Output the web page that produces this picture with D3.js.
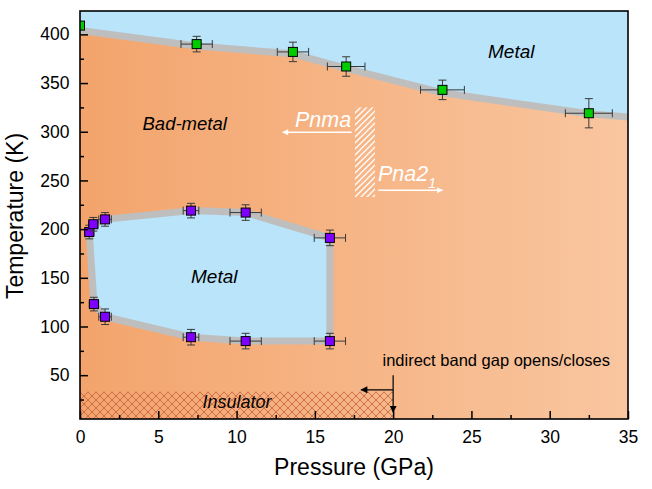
<!DOCTYPE html>
<html>
<head>
<meta charset="utf-8">
<script src="https://cdn.jsdelivr.net/npm/d3@7"></script>
<style>
  body { margin: 0; background: #fff; }
  svg text { font-family: "Liberation Sans", Arial, sans-serif; }
</style>
</head>
<body>
<div id="chart"></div>
<script>
// high temperature boundary (metal / bad-metal), green squares
var highP = [0, 7.45, 13.6, 17.0, 23.15, 32.5];
var highT = [409, 390, 382, 367, 343, 319];
var highPerr = [0, 1.0, 1.0, 1.2, 1.4, 1.5];
var highTerr = [3, 8, 10, 10, 10, 15];

// gray guide line along the top boundary
var lineP = [0, 7.45, 13.6, 17.0, 23.15, 32.5, 35];
var lineT = [404, 388, 380, 365, 340, 318.5, 315];

// metallic dome, purple squares (outline order)
var domeP = [0.59, 0.85, 1.6, 7.09, 10.58, 15.96, 15.96, 10.58, 7.09, 1.6, 0.89];
var domeT = [197, 205, 210, 219, 217, 191, 85, 85, 89, 110, 123];
var domePerr = [0.3, 0.3, 0.4, 0.5, 1.0, 1.0, 1.0, 1.0, 0.5, 0.4, 0.3];
var domeTerr = [7, 7, 7, 7.5, 8, 8, 8, 8, 8, 8, 7];

// structural transition and band-gap markers
var transP = [17.56, 18.84];
var transT = [233, 325];
var insulatorP = [0, 20];
var insulatorT = 33;

var xTicks = [0, 5, 10, 15, 20, 25, 30, 35];
var yTicks = [50, 100, 150, 200, 250, 300, 350, 400];

var W = 652, H = 489;
var x = d3.scaleLinear().domain([0, 35]).range([80, 628]);
var y = d3.scaleLinear().domain([5, 424]).range([419, 11]);

var svg = d3.select("#chart").append("svg").attr("width", W).attr("height", H);
var defs = svg.append("defs");

var grad = defs.append("linearGradient").attr("id", "bg")
  .attr("x1", "0").attr("x2", "1").attr("y1", "0").attr("y2", "0");
grad.append("stop").attr("offset", "0").attr("stop-color", "#F3A46C");
grad.append("stop").attr("offset", "1").attr("stop-color", "#F9C6A0");

defs.append("clipPath").attr("id", "plot").append("rect")
  .attr("x", x(0)).attr("y", y(424)).attr("width", x(35) - x(0)).attr("height", y(5) - y(424));

// cross hatch for the insulator
var xh = defs.append("pattern").attr("id", "xh").attr("patternUnits", "userSpaceOnUse")
  .attr("width", 8).attr("height", 8);
xh.append("path").attr("d", "M-1,-1L9,9M9,-1L-1,9").attr("stroke", "#C4603F")
  .attr("stroke-width", 0.8).attr("fill", "none");

// white diagonal hatch for the Pnma / Pna21 boundary
var wh = defs.append("pattern").attr("id", "wh").attr("patternUnits", "userSpaceOnUse")
  .attr("width", 6).attr("height", 6);
wh.append("path").attr("d", "M-1,7L7,-1M-1,1L1,-1M5,7L7,5").attr("stroke", "#fff")
  .attr("stroke-width", 1.3).attr("fill", "none");

["arrowW", "arrowK"].forEach(function (id) {
  defs.append("marker").attr("id", id).attr("viewBox", "0 0 10 10")
    .attr("refX", 9).attr("refY", 5).attr("markerWidth", id == "arrowW" ? 9 : 10)
    .attr("markerHeight", id == "arrowW" ? 6 : 7).attr("markerUnits", "userSpaceOnUse")
    .attr("orient", "auto")
    .append("path").attr("d", "M0,0L10,5L0,10Z").attr("fill", id == "arrowW" ? "#fff" : "#000");
});

var g = svg.append("g").attr("clip-path", "url(#plot)");

// background
g.append("rect").attr("x", x(0)).attr("y", y(424)).attr("width", x(35) - x(0))
  .attr("height", y(5) - y(424)).attr("fill", "url(#bg)");

// blue metal region above the boundary
var linePts = lineP.map(function (p, i) { return [x(p), y(lineT[i])]; });
var topArea = [[x(0), y(424)]].concat(linePts).concat([[x(35), y(424)]]);
g.append("path").attr("d", d3.line()(topArea) + "Z").attr("fill", "#B9E4FA");

// insulator hatch
g.append("rect").attr("x", x(insulatorP[0])).attr("y", y(insulatorT))
  .attr("width", x(insulatorP[1]) - x(insulatorP[0])).attr("height", y(5) - y(insulatorT))
  .attr("fill", "url(#xh)");

// dome
var domePts = domeP.map(function (p, i) { return [x(p), y(domeT[i])]; });
g.append("path").attr("d", d3.line()(domePts) + "Z").attr("fill", "#B9E4FA")
  .attr("stroke", "#BEBEBE").attr("stroke-width", 7).attr("stroke-linejoin", "round");

g.append("path").attr("d", d3.line()(linePts)).attr("fill", "none")
  .attr("stroke", "#BEBEBE").attr("stroke-width", 7).attr("stroke-linejoin", "round");

// structural transition
g.append("rect").attr("x", x(transP[0])).attr("y", y(transT[1]))
  .attr("width", x(transP[1]) - x(transP[0])).attr("height", y(transT[0]) - y(transT[1]))
  .attr("fill", "url(#wh)");

g.append("line").attr("x1", x(17.35)).attr("x2", x(12.95)).attr("y1", y(299.5)).attr("y2", y(299.5))
  .attr("stroke", "#fff").attr("stroke-width", 1.5).attr("marker-end", "url(#arrowW)");
g.append("line").attr("x1", x(19.05)).attr("x2", x(23.15)).attr("y1", y(240)).attr("y2", y(240))
  .attr("stroke", "#fff").attr("stroke-width", 1.5).attr("marker-end", "url(#arrowW)");

// band gap marker arrows
g.append("line").attr("x1", x(20)).attr("x2", x(20)).attr("y1", y(50)).attr("y2", y(12))
  .attr("stroke", "#000").attr("stroke-width", 1.2).attr("marker-end", "url(#arrowK)");
g.append("line").attr("x1", x(20)).attr("x2", x(17.95)).attr("y1", y(35)).attr("y2", y(35))
  .attr("stroke", "#000").attr("stroke-width", 1.2).attr("marker-end", "url(#arrowK)");

// labels
function label(txt, px, py, size, opts) {
  opts = opts || {};
  return svg.append("text").attr("x", px).attr("y", py).attr("font-size", size)
    .attr("font-style", opts.italic === false ? "normal" : "italic")
    .attr("fill", opts.fill || "#000").text(txt);
}
label("Metal", 488, 57.5, 19);
label("Bad-metal", 142.5, 130, 18.5);
label("Metal", 191, 283, 19);
label("Insulator", 202.5, 408, 18);
label("indirect band gap opens/closes", 382.5, 366, 16.5, { italic: false });
label("Pnma", 295, 127, 21.5, { fill: "#fff" });
var pna = label("Pna2", 378, 181, 21.5, { fill: "#fff" });
pna.append("tspan").attr("font-size", 14).attr("dy", 7).text("1");

// error bars and squares
function points(P, T, Pe, Te, color, clip) {
  var layer = svg.append("g");
  if (clip) layer.attr("clip-path", "url(#plot)");
  P.forEach(function (p, i) {
    var cx = x(p), cy = y(T[i]);
    var x0 = x(p - Pe[i]), x1 = x(p + Pe[i]), y0 = y(T[i] - Te[i]), y1 = y(T[i] + Te[i]);
    var e = layer.append("g").attr("stroke", "#3A3A3A").attr("stroke-width", 1);
    if (Pe[i] > 0) {
      e.append("line").attr("x1", x0).attr("x2", x1).attr("y1", cy).attr("y2", cy);
      e.append("line").attr("x1", x0).attr("x2", x0).attr("y1", cy - 4).attr("y2", cy + 4);
      e.append("line").attr("x1", x1).attr("x2", x1).attr("y1", cy - 4).attr("y2", cy + 4);
    }
    e.append("line").attr("x1", cx).attr("x2", cx).attr("y1", y0).attr("y2", y1);
    e.append("line").attr("x1", cx - 4).attr("x2", cx + 4).attr("y1", y0).attr("y2", y0);
    e.append("line").attr("x1", cx - 4).attr("x2", cx + 4).attr("y1", y1).attr("y2", y1);
    layer.append("rect").attr("x", cx - 4.5).attr("y", cy - 4.5).attr("width", 9).attr("height", 9)
      .attr("fill", color).attr("stroke", "#000").attr("stroke-width", 1);
  });
}
points(domeP, domeT, domePerr, domeTerr, "#8000FF", false);
points(highP, highT, highPerr, highTerr, "#00CC00", true);

// axes
var xMinor = d3.range(2.5, 35, 5);
var yMinor = d3.range(25, 424, 50);

svg.append("g").attr("transform", "translate(0," + y(5) + ")")
  .call(d3.axisBottom(x).tickValues(xMinor).tickSize(-4).tickFormat(""))
  .call(function (a) { a.select(".domain").remove(); });
svg.append("g").attr("transform", "translate(" + x(0) + ",0)")
  .call(d3.axisLeft(y).tickValues(yMinor).tickSize(-4).tickFormat(""))
  .call(function (a) { a.select(".domain").remove(); });

var xa = svg.append("g").attr("transform", "translate(0," + y(5) + ")")
  .call(d3.axisBottom(x).tickValues(xTicks).tickSize(-8).tickPadding(12));
var ya = svg.append("g").attr("transform", "translate(" + x(0) + ",0)")
  .call(d3.axisLeft(y).tickValues(yTicks).tickSize(-8).tickPadding(10.5));
[xa, ya].forEach(function (a) {
  a.select(".domain").remove();
  a.selectAll("text").attr("font-size", 17.5).attr("fill", "#000")
    .attr("font-family", "Liberation Sans, Arial, sans-serif");
});
svg.selectAll(".tick line").attr("stroke", "#000").attr("stroke-width", 1.5);

// frame
svg.append("rect").attr("x", x(0)).attr("y", y(424)).attr("width", x(35) - x(0))
  .attr("height", y(5) - y(424)).attr("fill", "none").attr("stroke", "#000").attr("stroke-width", 1.6);

// axis titles
svg.append("text").attr("x", (x(0) + x(35)) / 2).attr("y", 475).attr("text-anchor", "middle")
  .attr("font-size", 23).text("Pressure (GPa)");
svg.append("text").attr("transform", "translate(23," + 216 + ") rotate(-90)")
  .attr("text-anchor", "middle").attr("font-size", 23).text("Temperature (K)");
</script>
</body>
</html>
